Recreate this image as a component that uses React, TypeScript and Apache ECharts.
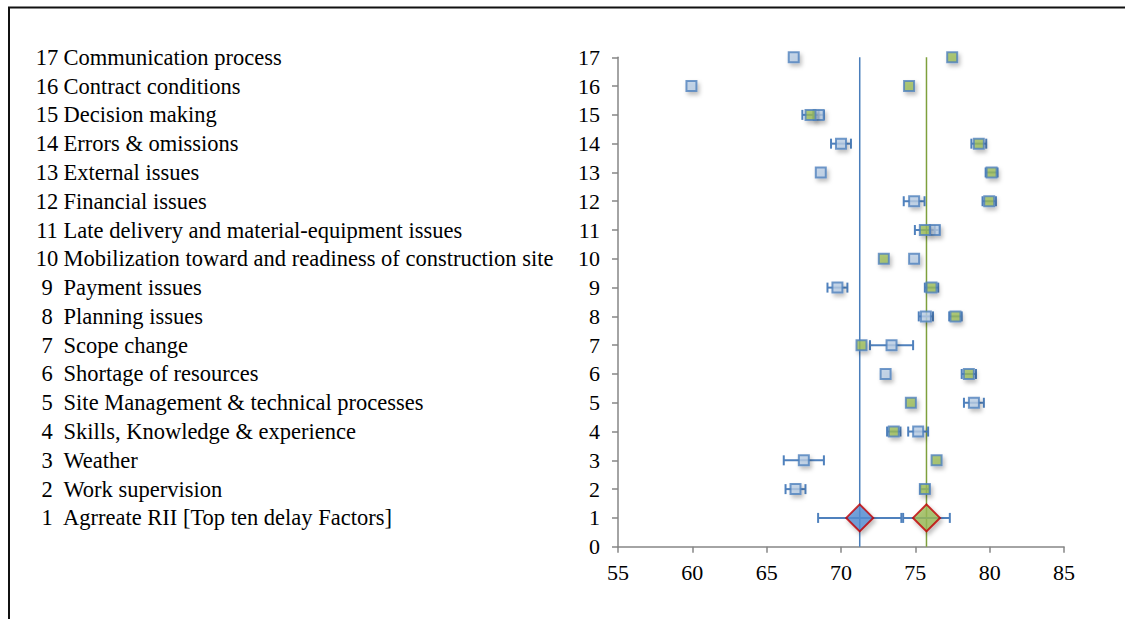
import React, { useEffect, useRef } from "react";
import * as echarts from "echarts";

// Row number -> factor name (row 1 at the bottom)
const factorNames: string[] = [
  "Agrreate RII [Top ten delay Factors]",
  "Work supervision",
  "Weather",
  "Skills, Knowledge & experience",
  "Site Management & technical processes",
  "Shortage of resources",
  "Scope change",
  "Planning issues",
  "Payment issues",
  "Mobilization toward and readiness of construction site",
  "Late delivery and material-equipment issues",
  "Financial issues",
  "External issues",
  "Errors & omissions",
  "Decision making",
  "Contract conditions",
  "Communication process",
];

// Rows 2..17
const factorRows: number[] = [2, 3, 4, 5, 6, 7, 8, 9, 10, 11, 12, 13, 14, 15, 16, 17];
const blueValues: number[] = [66.94, 67.5, 75.19, 78.94, 73.0, 73.4, 75.71, 69.76, 74.92, 76.31, 74.92, 68.64, 70.0, 68.5, 59.94, 66.82];
const blueErrors: number[] = [0.67, 1.35, 0.67, 0.67, 0, 1.45, 0.48, 0.67, 0, 0.3, 0.7, 0, 0.67, 0.35, 0, 0];
const greenValues: number[] = [75.64, 76.43, 73.55, 74.7, 78.6, 71.38, 77.7, 76.09, 72.88, 75.64, 79.97, 80.13, 79.27, 67.95, 74.58, 77.48];
const greenErrors: number[] = [0.3, 0, 0.45, 0, 0.48, 0, 0.42, 0.45, 0, 0.67, 0.45, 0.4, 0.5, 0.55, 0, 0];

// Row 1: aggregate
const aggregateRow = 1;
const aggregateBlue = 71.26;
const aggregateBlueError = 2.8;
const aggregateGreen = 75.75;
const aggregateGreenError = 1.57;

const xTicks = { min: 55, max: 85, interval: 5 };
const yTicks = { min: 0, max: 17, interval: 1 };

const BLUE_EDGE = "#4f81bd";
const FONT = "'Liberation Serif', 'Times New Roman', serif";
const LABEL_SIZE = 22.5;
const AXIS_SIZE = 22;

export default function App() {
  const ref = useRef<HTMLDivElement>(null);

  useEffect(() => {
    if (!ref.current) return;
    const chart = echarts.init(ref.current, undefined, { renderer: "svg" });

    const errData: number[][] = [];
    factorRows.forEach((r, i) => {
      if (blueErrors[i] > 0) errData.push([blueValues[i], r, blueErrors[i]]);
      if (greenErrors[i] > 0) errData.push([greenValues[i], r, greenErrors[i]]);
    });
    errData.push([aggregateBlue, aggregateRow, aggregateBlueError]);
    errData.push([aggregateGreen, aggregateRow, aggregateGreenError]);

    const shadow = {
      shadowColor: "rgba(0,0,0,0.3)",
      shadowBlur: 4,
      shadowOffsetX: 2,
      shadowOffsetY: 3,
    };

    const axisGray = "#868686";

    const option: any = {
      animation: false,
      backgroundColor: "#ffffff",
      graphic: [
        {
          type: "rect",
          shape: { x: 9, y: 7.5, width: 1300, height: 800 },
          style: { fill: "none", stroke: "#111", lineWidth: 2 },
          silent: true,
        },
      ],
      grid: { left: 618, right: 61, top: 57.3, bottom: 72.3, containLabel: false },
      xAxis: {
        type: "value",
        min: xTicks.min,
        max: xTicks.max,
        interval: xTicks.interval,
        axisLine: { show: true, lineStyle: { color: axisGray, width: 1.5 } },
        axisTick: { show: true, length: 6, lineStyle: { color: axisGray, width: 1.5 } },
        splitLine: { show: false },
        axisLabel: { color: "#000", fontFamily: FONT, fontSize: AXIS_SIZE, margin: 15 },
      },
      yAxis: [
        {
          type: "value",
          min: yTicks.min,
          max: yTicks.max,
          interval: yTicks.interval,
          axisLine: { show: true, lineStyle: { color: axisGray, width: 1.5 } },
          axisTick: { show: true, length: 6, lineStyle: { color: axisGray, width: 1.5 } },
          splitLine: { show: false },
          axisLabel: { color: "#000", fontFamily: FONT, fontSize: AXIS_SIZE, margin: 18 },
        },
        {
          type: "value",
          min: yTicks.min,
          max: yTicks.max,
          interval: yTicks.interval,
          position: "left",
          offset: 582,
          axisLine: { show: false },
          axisTick: { show: false },
          splitLine: { show: false },
          axisLabel: {
            margin: 0,
            align: "left",
            color: "#000",
            fontFamily: FONT,
            fontSize: LABEL_SIZE,
            formatter: (v: number) => {
              const name = factorNames[v - 1];
              if (!name) return "";
              return `{n|${v}}{t| ${name}}`;
            },
            rich: {
              n: { width: 22, align: "right", fontFamily: FONT, fontSize: LABEL_SIZE, color: "#000" },
              t: { fontFamily: FONT, fontSize: LABEL_SIZE, color: "#000" },
            },
          },
        },
      ],
      series: [
        {
          type: "line",
          data: [
            [aggregateBlue, yTicks.min],
            [aggregateBlue, yTicks.max],
          ],
          symbol: "none",
          lineStyle: { color: "#4a7ebb", width: 1.5 },
          z: 1,
          silent: true,
        },
        {
          type: "line",
          data: [
            [aggregateGreen, yTicks.min],
            [aggregateGreen, yTicks.max],
          ],
          symbol: "none",
          lineStyle: { color: "#7ea03c", width: 1.5 },
          z: 1,
          silent: true,
        },
        {
          type: "custom",
          data: errData,
          encode: { x: 0, y: 1 },
          z: 2,
          renderItem: (params: any, api: any) => {
            const v = api.value(0);
            const r = api.value(1);
            const e = api.value(2);
            const a = api.coord([v - e, r]);
            const b = api.coord([v + e, r]);
            const h = 5;
            const style = { stroke: BLUE_EDGE, lineWidth: 2 };
            return {
              type: "group",
              children: [
                { type: "line", shape: { x1: a[0], y1: a[1], x2: b[0], y2: b[1] }, style },
                { type: "line", shape: { x1: a[0], y1: a[1] - h, x2: a[0], y2: a[1] + h }, style },
                { type: "line", shape: { x1: b[0], y1: b[1] - h, x2: b[0], y2: b[1] + h }, style },
              ],
            };
          },
        },
        {
          type: "scatter",
          data: factorRows.map((r, i) => [blueValues[i], r]),
          symbol: "rect",
          symbolSize: 10,
          z: 3,
          itemStyle: { color: "#b9cde5", borderColor: BLUE_EDGE, borderWidth: 2, ...shadow },
        },
        {
          type: "scatter",
          data: factorRows.map((r, i) => [greenValues[i], r]),
          symbol: "rect",
          symbolSize: 10,
          z: 4,
          itemStyle: { color: "#9bbb59", borderColor: BLUE_EDGE, borderWidth: 2, ...shadow },
        },
        {
          type: "scatter",
          data: [[aggregateBlue, aggregateRow]],
          symbol: "diamond",
          symbolSize: 27,
          z: 5,
          itemStyle: { color: "#558ed5", borderColor: "#c00000", borderWidth: 2, ...shadow },
        },
        {
          type: "scatter",
          data: [[aggregateGreen, aggregateRow]],
          symbol: "diamond",
          symbolSize: 27,
          z: 5,
          itemStyle: { color: "#9bbb59", borderColor: "#c00000", borderWidth: 2, ...shadow },
        },
      ],
    };

    chart.setOption(option);
    return () => chart.dispose();
  }, []);

  return (
    <div
      ref={ref}
      style={{ position: "fixed", left: 0, top: 0, width: 1125, height: 619, background: "#fff" }}
    />
  );
}
